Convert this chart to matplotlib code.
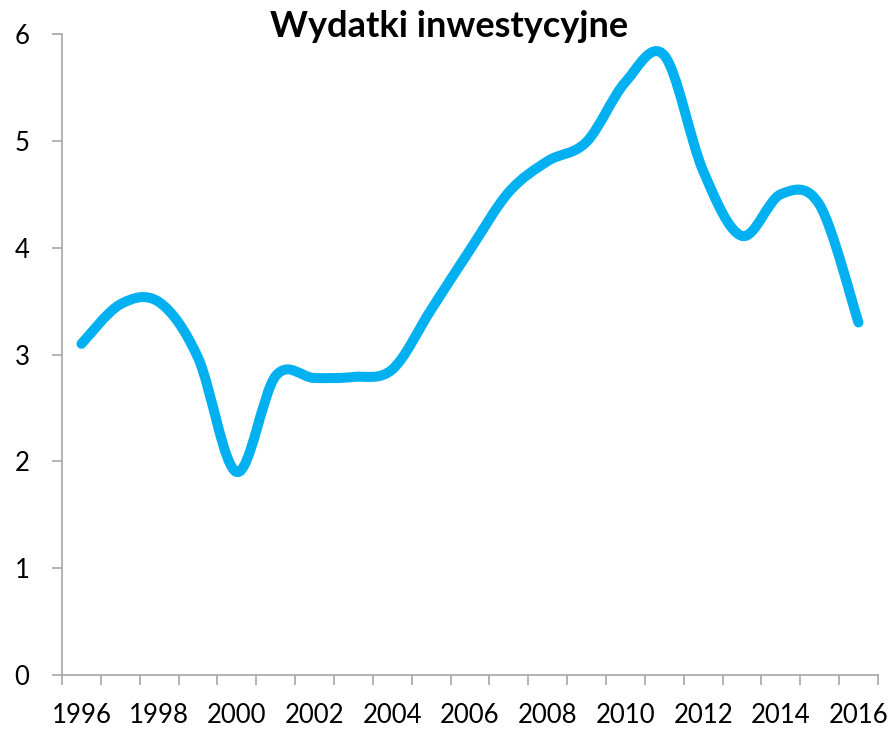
import matplotlib.pyplot as plt
import numpy as np
from matplotlib.path import Path
from matplotlib.patches import PathPatch

years = list(range(1996, 2017))
values = [3.10, 3.47, 3.49, 2.97, 1.90, 2.80, 2.78, 2.79, 2.86, 3.42, 3.98,
          4.52, 4.81, 4.99, 5.55, 5.80, 4.72, 4.11, 4.50, 4.40, 3.30]
tick_years = years[::2]
title = "Wydatki inwestycyjne"

plt.rcParams["font.family"] = ["Lato", "DejaVu Sans"]


def smooth_path(x, y):
    # Excel-style smoothed line: cubic Bezier segments through every point
    pts = np.column_stack([x, y]).astype(float)
    n = len(pts)
    verts = [pts[0]]
    codes = [Path.MOVETO]
    for i in range(n - 1):
        p_prev = pts[i - 1] if i > 0 else pts[i]
        p_next2 = pts[i + 2] if i + 2 < n else pts[i + 1]
        c1 = pts[i] + (pts[i + 1] - p_prev) / 6.0
        c2 = pts[i + 1] - (p_next2 - pts[i]) / 6.0
        verts += [c1, c2, pts[i + 1]]
        codes += [Path.CURVE4] * 3
    return Path(verts, codes)


fig = plt.figure(figsize=(8.94, 7.29), dpi=100)
ax = fig.add_axes([0.0694, 0.074, 0.9126, 0.8794])

xpos = np.arange(len(years))
patch = PathPatch(smooth_path(xpos, values), fill=False, edgecolor="#00B0F0",
                  linewidth=7.2, capstyle="round", joinstyle="round")
ax.add_patch(patch)

ax.set_xlim(-0.5, len(years) - 0.5)
ax.set_ylim(0, 6)

# tick marks between categories, labels on every second year
ax.set_xticks(np.arange(-0.5, len(years), 1.0))
ax.set_xticklabels([])
label_pos = [years.index(y) for y in tick_years]
ax.set_xticks(label_pos, minor=True)
ax.set_xticklabels([str(y) for y in tick_years], minor=True)
ax.tick_params(axis="x", which="major", length=7.5, width=1.2, color="#a6a6a6")
ax.tick_params(axis="x", which="minor", length=0, pad=20, labelsize=18.5)

ax.set_yticks(range(0, 7))
ax.tick_params(axis="y", length=7.5, width=1.2, color="#a6a6a6", pad=16, labelsize=18.5)

for s in ["top", "right"]:
    ax.spines[s].set_visible(False)
for s in ["left", "bottom"]:
    ax.spines[s].set_color("#a6a6a6")
    ax.spines[s].set_linewidth(1.2)

fig.text(0.502, 0.963, title, ha="center", va="center", fontsize=26,
         fontweight="bold")

fig.savefig("out.png", dpi=100)
